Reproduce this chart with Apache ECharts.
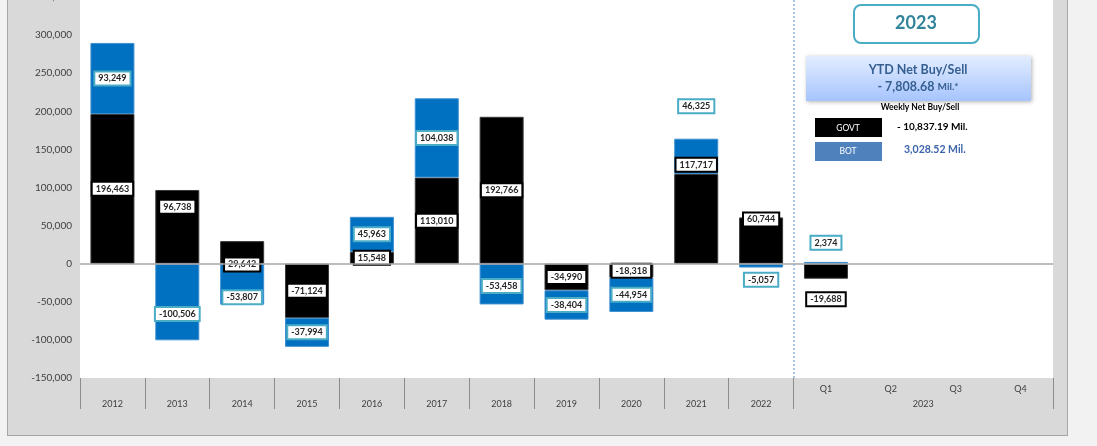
<!DOCTYPE html>
<html>
<head>
<meta charset="utf-8">
<script src="https://cdn.jsdelivr.net/npm/echarts@6/dist/echarts.min.js"></script>
<style>
  html, body { margin: 0; padding: 0; background: #f2f2f2; overflow: hidden; }
  #frame { position: absolute; left: 7px; top: -2px; width: 1059px; height: 437px; background: #d9d9d9;
           border-left: 1px solid #a6a6a6; border-right: 1px solid #a6a6a6; border-bottom: 1px solid #a6a6a6; }
  #chart { position: absolute; left: 0; top: 0; width: 1097px; height: 446px; }
</style>
</head>
<body>
<div id="frame"></div>
<div id="chart"></div>
<script>
// ---- data ----
const categories = ['2012','2013','2014','2015','2016','2017','2018','2019','2020','2021','2022','Q1','Q2','Q3','Q4'];
const govtValues = [196463, 96738, 29642, -71124, 15548, 113010, 192766, -34990, -18318, 117717, 60744, -19688, null, null, null];
const botValues  = [93249, -100506, -53807, -37994, 45963, 104038, -53458, -38404, -44954, 46325, -5057, 2374, null, null, null];
const quarterGroupLabel = '2023';
const yTicks = { min: -150000, max: 350000, step: 50000 };

// label nudges (pixels) to mimic the hand-placed labels
const govtLabelShift = [0, -20, 12, 0, 0, 0, 0, 0, 0, -54, -21, 28, 0, 0, 0];
const botLabelShift  = [0, 12, 13, 0, 0, 0, 2, 0, 0, -50, 14, -20, 0, 0, 0];

const FONT = 'Lato, "Open Sans", sans-serif';
const fmt = v => Number(v).toLocaleString('en-US');

function labelBox(border) {
  return {
    show: true, position: 'inside', formatter: p => fmt(p.value),
    fontFamily: FONT, fontSize: 9, fontWeight: 'bold', color: '#262626',
    backgroundColor: '#ffffff', borderColor: border, borderWidth: 2,
    padding: [2, 3, 1, 3]
  };
}

const govtData = govtValues.map((v, i) => v == null ? null : ({ value: v, label: { offset: [0, govtLabelShift[i]] } }));
const botData  = botValues.map((v, i) => v == null ? null : ({ value: v, label: { offset: [0, botLabelShift[i]] } }));

const chart = echarts.init(document.getElementById('chart'), null, { renderer: 'canvas' });

const option = {
  backgroundColor: 'transparent',
  animation: false,
  grid: { left: 80, right: 44, top: -3, bottom: 68, show: true, backgroundColor: '#ffffff', borderWidth: 0,
          containLabel: false, outerBoundsMode: 'none' },
  xAxis: [
    {
      type: 'category', data: categories, position: 'bottom',
      axisLine: { show: false, onZero: false },
      axisTick: { show: true, length: 31, interval: (idx) => idx <= 11, lineStyle: { color: '#8c8c8c', width: 1 } },
      axisLabel: {
        interval: 0, margin: 4, fontFamily: FONT, fontSize: 9, color: '#404040', lineHeight: 15,
        formatter: (v, idx) => idx >= 11 ? v : '\n' + v
      },
      splitLine: { show: false }
    },
    {
      type: 'value', min: 0, max: 15, interval: 1, position: 'bottom',
      axisLine: { show: false, onZero: false }, axisTick: { show: false }, splitLine: { show: false },
      axisLabel: {
        margin: 4, fontFamily: FONT, fontSize: 9, color: '#404040', lineHeight: 15,
        showMinLabel: true, showMaxLabel: true,
        formatter: v => v === 13 ? '\n' + quarterGroupLabel : ''
      }
    }
  ],
  yAxis: {
    type: 'value', min: yTicks.min, max: yTicks.max, interval: yTicks.step,
    axisLine: { show: false }, axisTick: { show: false }, splitLine: { show: false },
    axisLabel: { margin: 8, fontFamily: FONT, fontSize: 10, color: '#404040', formatter: v => fmt(v) }
  },
  series: [
    {
      name: 'GOVT', type: 'bar', stack: 'net', barWidth: 44, xAxisIndex: 0,
      itemStyle: { color: '#000000', borderColor: '#3a3a3a', borderWidth: 1 },
      label: labelBox('#000000'),
      data: govtData,
      markLine: {
        silent: true, symbol: 'none', label: { show: false },
        lineStyle: { color: '#a6a6a6', width: 1.5, type: 'solid' },
        data: [{ yAxis: 0 }]
      }
    },
    {
      name: 'BOT', type: 'bar', stack: 'net', barWidth: 44, xAxisIndex: 0,
      itemStyle: { color: '#0070c0', borderColor: '#3d8fd1', borderWidth: 1 },
      label: labelBox('#4bacc6'),
      data: botData
    },
    {
      name: 'divider', type: 'line', xAxisIndex: 1, yAxisIndex: 0, data: [],
      markLine: {
        silent: true, symbol: 'none', label: { show: false },
        lineStyle: { color: '#8db4e2', width: 1.5, type: [2, 2] },
        data: [{ xAxis: 11 }]
      }
    }
  ],
  graphic: [
    { type: 'rect', left: 853, top: 4, shape: { width: 125, height: 38, r: 7 },
      style: { fill: '#ffffff', stroke: '#4bacc6', lineWidth: 2 } },
    { type: 'text', x: 916, y: 23, style: { text: '2023', fontFamily: FONT, fontSize: 18, fontWeight: 'bold',
      fill: '#31849b', align: 'center', verticalAlign: 'middle' } },
    { type: 'rect', left: 806, top: 56, shape: { width: 225, height: 45 },
      style: { fill: new echarts.graphic.LinearGradient(0, 0, 0, 1, [{ offset: 0, color: '#e3edff' }, { offset: 1, color: '#a6c4fe' }]),
        shadowBlur: 4, shadowColor: 'rgba(0,0,0,0.3)', shadowOffsetX: 1, shadowOffsetY: 1 } },
    { type: 'text', x: 918, y: 70, style: { text: 'YTD Net Buy/Sell', fontFamily: FONT, fontSize: 12.5, fontWeight: 'bold',
      fill: '#365f91', align: 'center', verticalAlign: 'middle' } },
    { type: 'text', x: 918, y: 87, style: { text: '{a|- 7,808.68 }{b|Mil.*}', align: 'center', verticalAlign: 'middle',
      rich: { a: { fontFamily: FONT, fontSize: 12.5, fontWeight: 'bold', fill: '#365f91', color: '#365f91' },
              b: { fontFamily: FONT, fontSize: 10, fontWeight: 'bold', fill: '#365f91', color: '#365f91' } } } },
    { type: 'text', x: 920, y: 107, style: { text: 'Weekly Net Buy/Sell', fontFamily: FONT, fontSize: 8.5, fontWeight: 'bold',
      fill: '#000000', align: 'center', verticalAlign: 'middle' } },
    { type: 'rect', left: 815, top: 118, shape: { width: 67, height: 19 }, style: { fill: '#000000' } },
    { type: 'text', x: 848, y: 128, style: { text: 'GOVT', fontFamily: FONT, fontSize: 8.5, fill: '#ffffff', align: 'center', verticalAlign: 'middle' } },
    { type: 'text', x: 897, y: 127, style: { text: '- 10,837.19 Mil.', fontFamily: FONT, fontSize: 10, fontWeight: 'bold',
      fill: '#000000', align: 'left', verticalAlign: 'middle' } },
    { type: 'rect', left: 815, top: 142, shape: { width: 67, height: 19 }, style: { fill: '#4f81bd' } },
    { type: 'text', x: 848, y: 151, style: { text: 'BOT', fontFamily: FONT, fontSize: 8.5, fill: '#ffffff', align: 'center', verticalAlign: 'middle' } },
    { type: 'text', x: 904, y: 150, style: { text: '3,028.52 Mil.', fontFamily: FONT, fontSize: 10.5, fontWeight: 'bold',
      fill: '#3c64aa', align: 'left', verticalAlign: 'middle' } }
  ]
};
chart.setOption(option);
</script>
</body>
</html>
